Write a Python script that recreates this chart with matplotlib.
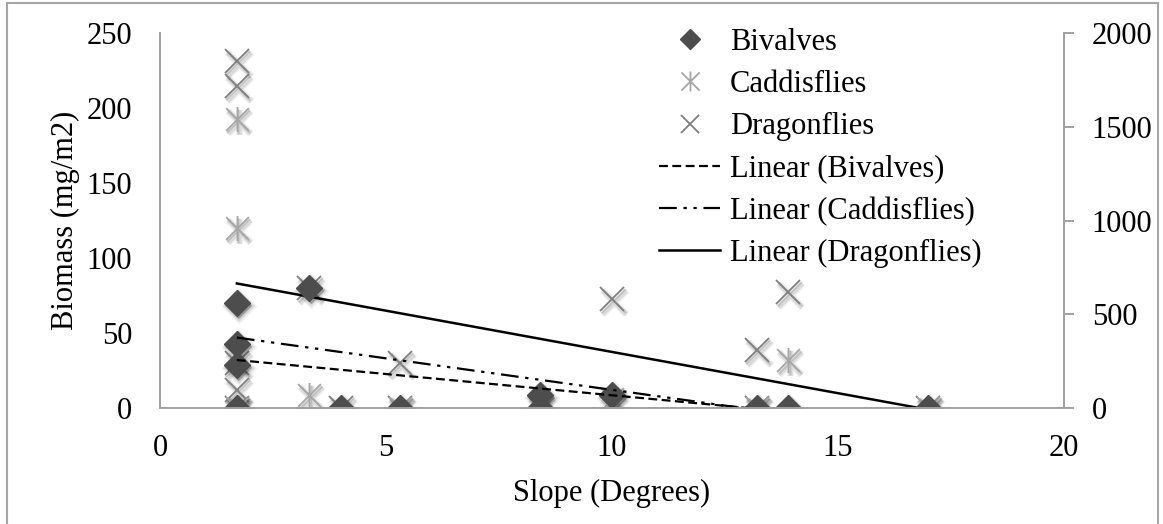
import numpy as np
import matplotlib
matplotlib.use("Agg")
import matplotlib.pyplot as plt
from matplotlib.path import Path
from matplotlib.patches import Rectangle
from matplotlib.transforms import ScaledTranslation

# biomass at each site slope; dragonflies are plotted on the secondary axis
biv_x = [1.7, 1.7, 1.7, 1.7, 3.3, 4.0, 5.3, 8.4, 8.4, 10.0, 13.2, 13.9, 17.0]
biv_y = [70, 43, 29, 0, 80, 0, 0, 9, 0, 9, 0, 0, 0]

cad_x = [1.7, 1.7, 1.7, 3.3, 5.3, 8.4, 10.0, 13.2, 13.9, 17.0]
cad_y = [193, 120, 0, 8.7, 0, 2, 6, 0, 32, 0]

drg_x = [1.7, 1.7, 1.7, 1.7, 1.7, 3.3, 4.0, 5.3, 5.3, 8.4, 10.0, 10.0, 13.2, 13.2, 13.9, 17.0]
drg_y = [1850, 1720, 240, 96, 0, 640, 0, 240, 0, 0, 584, 0, 310, 0, 620, 0]

# linear trendlines (slope, intercept)
biv_fit = (-2.83, 36.8)
cad_fit = (-4.2, 54.1)
drg_fit = (-44.0, 739.0)

plt.rcParams['font.family'] = ['Liberation Serif', 'DejaVu Serif']
FS = 22

asterisk = Path([(-1, -1), (1, 1), (-1, 1), (1, -1), (0, -1.1), (0, 1.1)],
                [Path.MOVETO, Path.LINETO, Path.MOVETO, Path.LINETO, Path.MOVETO, Path.LINETO])


def shadowed(ax, x, y, **kw):
    # soft drop shadow: a few offset, faded copies underneath
    fig = ax.figure
    for dx, dy, grow, a in [(2, -3, 4, 0.06), (2, -3, 2, 0.09), (1.5, -2, 0, 0.12)]:
        tr = ax.transData + ScaledTranslation(dx / 100, dy / 100, fig.dpi_scale_trans)
        sk = dict(kw)
        sk['color'] = 'black'
        sk['markerfacecolor'] = 'black'
        sk['markeredgecolor'] = 'black'
        sk['markeredgewidth'] = kw.get('markeredgewidth', 1) + grow
        sk['alpha'] = a
        sk.pop('label', None)
        ax.plot(x, y, linestyle='none', transform=tr, **sk)
    return ax.plot(x, y, linestyle='none', **kw)[0]


fig = plt.figure(figsize=(11.63, 5.24), dpi=100)
ax = fig.add_axes([160 / 1163, 116 / 524, 904 / 1163, 375 / 524])
ax2 = ax.twinx()
# primary series (bivalves on top) drawn above the secondary axis
ax.set_zorder(ax2.get_zorder() + 1)
ax.patch.set_visible(False)

h_drg = shadowed(ax2, drg_x, drg_y, marker='x', markersize=17, color='#7f7f7f',
                 markeredgewidth=1.3, label='Dragonflies')
l_drg, = ax2.plot([min(drg_x), max(drg_x)],
                  [drg_fit[0] * min(drg_x) + drg_fit[1], drg_fit[0] * max(drg_x) + drg_fit[1]],
                  color='black', lw=1.8, label='Linear (Dragonflies)')

h_cad = shadowed(ax, cad_x, cad_y, marker=asterisk, markersize=18, color='#a6a6a6',
                 markerfacecolor='none', markeredgewidth=1.3, label='Caddisflies')
h_biv = shadowed(ax, biv_x, biv_y, marker='D', markersize=13, color='#4d4d4d',
                 markeredgewidth=1, label='Bivalves')

xs = np.array([min(biv_x), max(biv_x)])
l_biv, = ax.plot(xs, biv_fit[0] * xs + biv_fit[1], color='black', lw=1.6,
                 dashes=(4, 2), label='Linear (Bivalves)')
xs = np.array([min(cad_x), max(cad_x)])
l_cad, = ax.plot(xs, cad_fit[0] * xs + cad_fit[1], color='black', lw=1.6,
                 dashes=(8, 3, 1.5, 3, 1.5, 3), label='Linear (Caddisflies)')

ax.set_xlim(0, 20)
ax.set_ylim(0, 250)
ax2.set_ylim(0, 2000)
ax.set_xticks([0, 5, 10, 15, 20])
ax.set_yticks([0, 50, 100, 150, 200, 250])
ax2.set_yticks([0, 500, 1000, 1500, 2000])

for a in (ax, ax2):
    for s in a.spines.values():
        s.set_visible(False)
ax.spines['left'].set_visible(True)
ax.spines['bottom'].set_visible(True)
ax2.spines['right'].set_visible(True)
for s in (ax.spines['left'], ax.spines['bottom'], ax2.spines['right']):
    s.set_color('#a0a0a0')
    s.set_linewidth(1.4)

ax.tick_params(axis='x', length=0, pad=19, labelsize=FS)
ax.tick_params(axis='y', length=0, pad=20, labelsize=FS)
ax2.tick_params(axis='y', length=7, width=1.4, color='#a0a0a0', pad=13, labelsize=FS)

ax.set_xlabel('Slope (Degrees)', fontsize=FS)
ax.set_ylabel('Biomass (mg/m2)', fontsize=FS)
ax.xaxis.set_label_coords(0.5, -0.19)
ax.yaxis.set_label_coords(-0.088, 0.5)

fig.legend([h_biv, h_cad, h_drg, l_biv, l_cad, l_drg],
           ['Bivalves', 'Caddisflies', 'Dragonflies', 'Linear (Bivalves)',
            'Linear (Caddisflies)', 'Linear (Dragonflies)'],
           loc='upper left', bbox_to_anchor=(659 / 1163, 1 - 28 / 524),
           frameon=False, fontsize=FS, markerscale=0.8, handlelength=2.0,
           handletextpad=0.33, labelspacing=0.43, borderpad=0, borderaxespad=0)

# chart-area border
fig.patches.append(Rectangle((6.5 / 1163, -0.02), 1151.5 / 1163, (521 / 524) + 0.02,
                             transform=fig.transFigure, fill=False,
                             edgecolor='#a6a6a6', linewidth=1.5))

fig.savefig('out.png', dpi=100)
